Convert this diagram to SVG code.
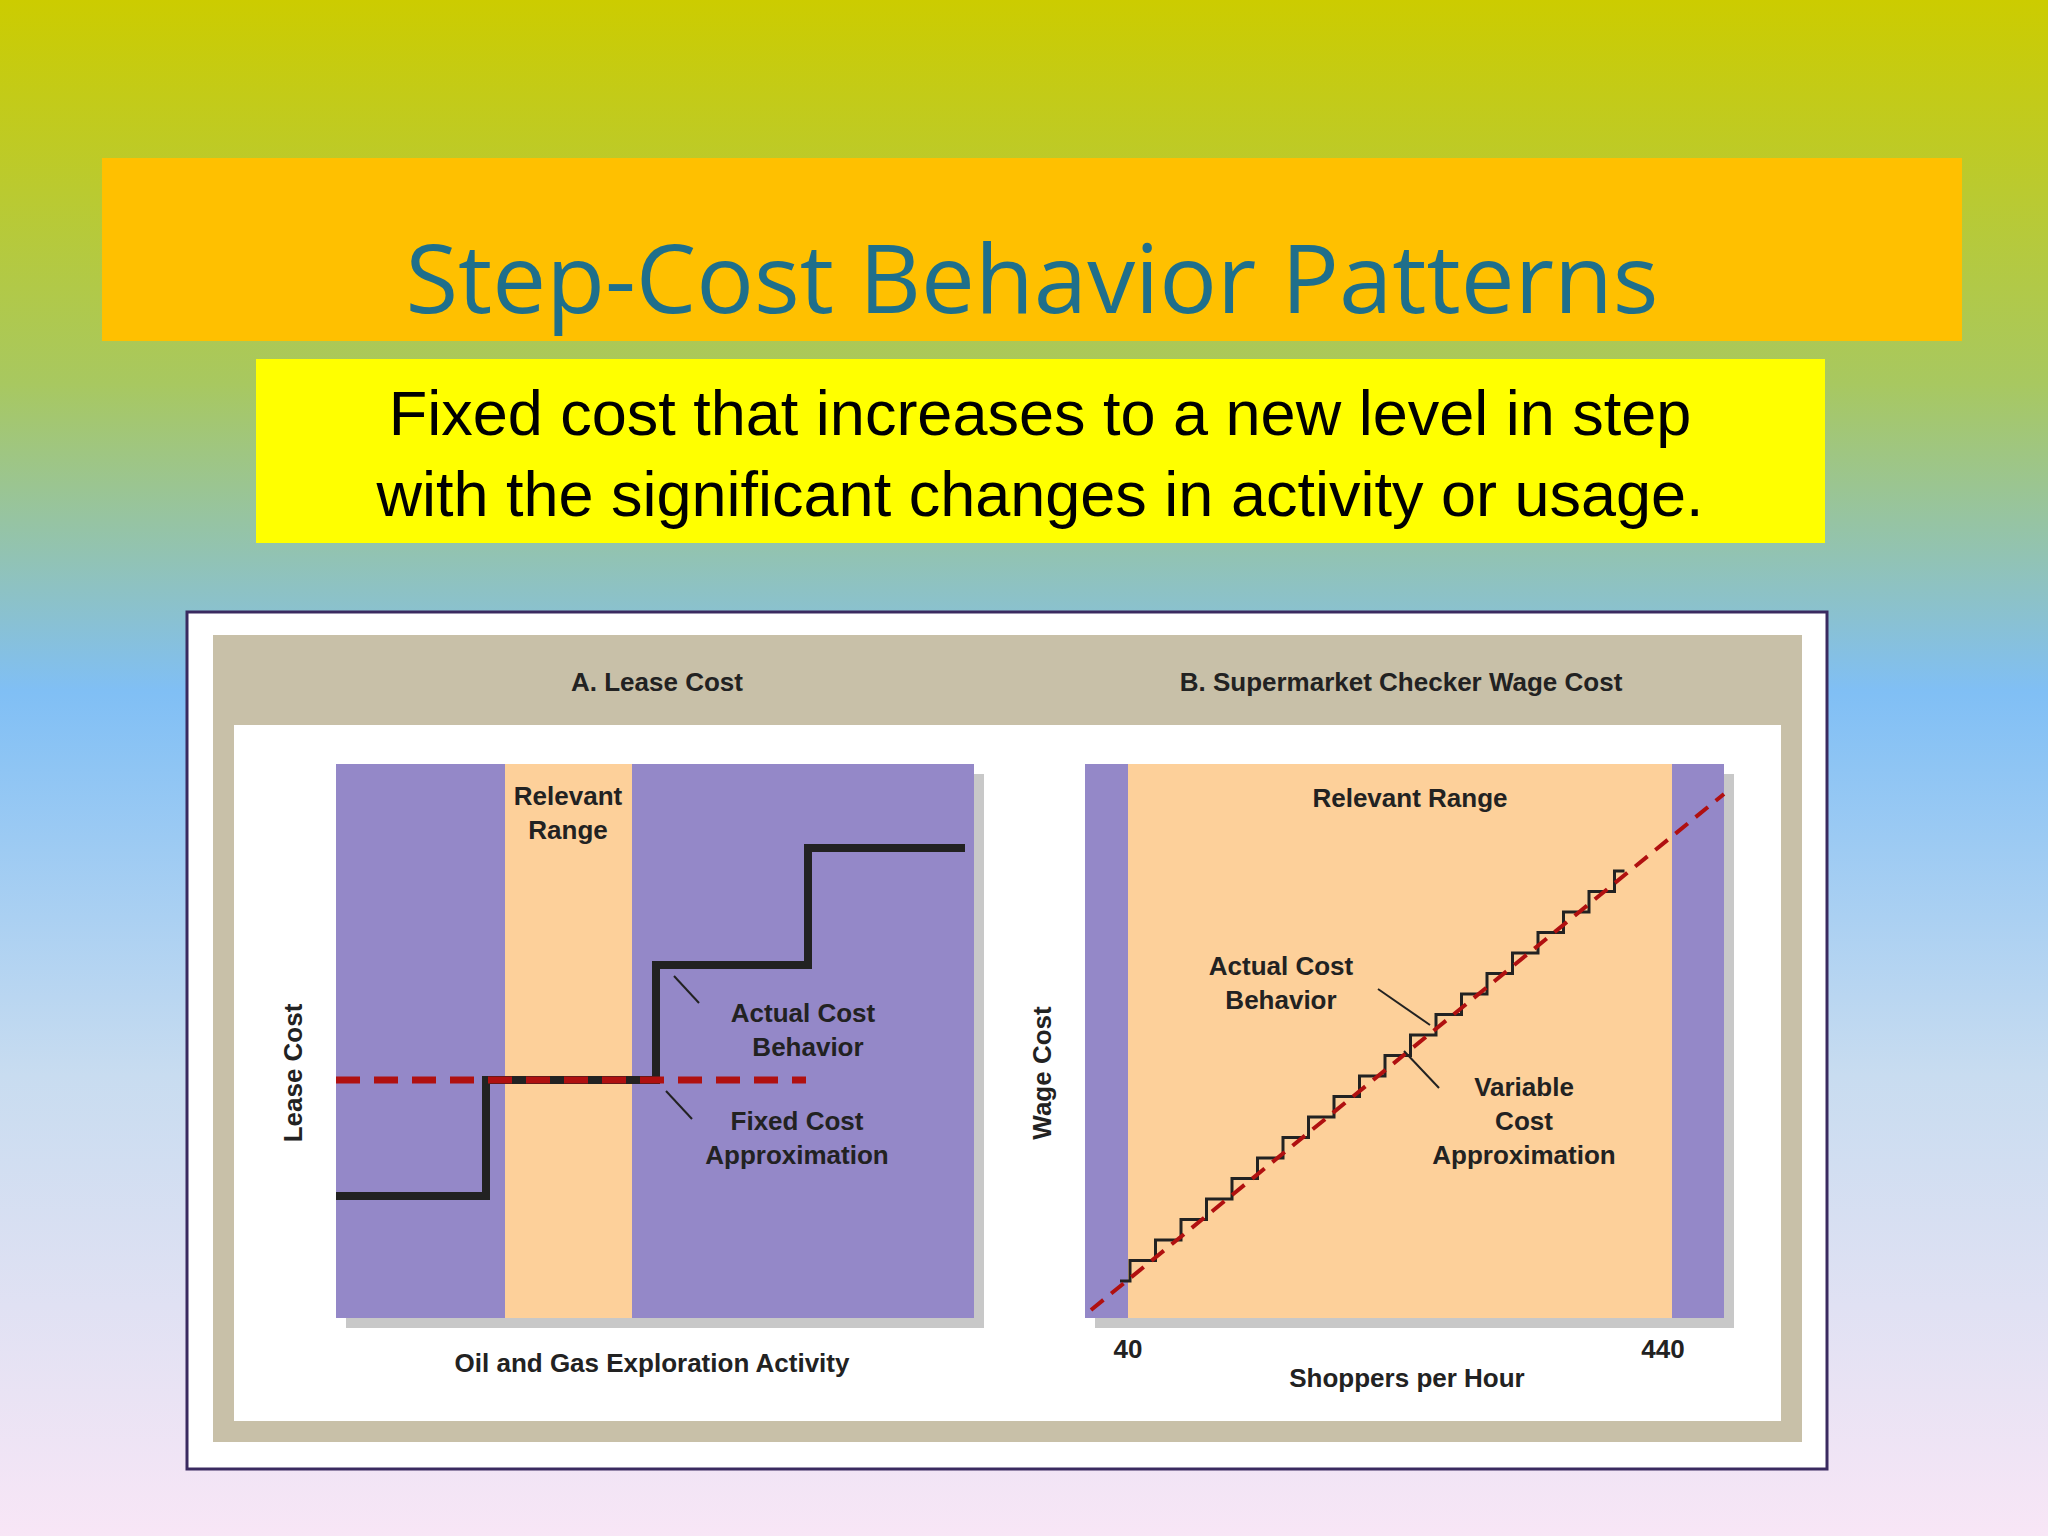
<svg xmlns="http://www.w3.org/2000/svg" width="2048" height="1536" viewBox="0 0 2048 1536">
<defs>
<linearGradient id="bg" x1="0" y1="0" x2="0" y2="1">
<stop offset="0" stop-color="#cccc00"/>
<stop offset="0.25" stop-color="#a8c860"/>
<stop offset="0.45" stop-color="#80bff5"/>
<stop offset="0.7" stop-color="#c8dcf0"/>
<stop offset="1" stop-color="#f8e6f6"/>
</linearGradient>
</defs>
<style>
.lbl{font-family:"Liberation Sans",Arial,sans-serif;font-weight:bold;font-size:26px;fill:#222;text-anchor:middle}
.step{fill:none;stroke:#222;stroke-width:8}
.dash{fill:none;stroke:#b01010;stroke-width:7;stroke-dasharray:24 14}
.lead{stroke:#222;stroke-width:2}
</style>
<rect width="2048" height="1536" fill="url(#bg)"/>
<g id="title">
<rect x="102" y="158" width="1860" height="183" fill="#ffc000"/>
<text x="1032" y="313" font-family="'Open Sans',sans-serif" font-size="96" fill="#1f6f8b" text-anchor="middle">Step-Cost Behavior Patterns</text>
</g>
<g id="definition">
<rect x="256" y="359" width="1569" height="184" fill="#ffff00"/>
<text font-family="'Liberation Sans',Arial,sans-serif" font-size="63" fill="#000" text-anchor="middle"><tspan x="1040" y="435">Fixed cost that increases to a new level in step</tspan><tspan x="1040" y="516">with the significant changes in activity or usage.</tspan></text>
</g>
<g id="panel">
<rect x="187" y="612" width="1640" height="857" fill="#fff" stroke="#3a2a60" stroke-width="3"/>
<rect x="213" y="635" width="1589" height="807" fill="#c8c0a8"/>
<rect x="234" y="725" width="1547" height="696" fill="#fff"/>
<text class="lbl" x="657" y="691">A. Lease Cost</text>
<text class="lbl" x="1401" y="691">B. Supermarket Checker Wage Cost</text>
</g>
<g id="chartA">
<rect x="346" y="774" width="638" height="554" fill="#c8c8c8"/>
<rect x="336" y="764" width="638" height="554" fill="#9488c8"/>
<rect x="505" y="764" width="127" height="554" fill="#fdd09a"/>
<text class="lbl" x="568" y="805">Relevant</text>
<text class="lbl" x="568" y="839">Range</text>
<text class="lbl" x="803" y="1022">Actual Cost</text>
<text class="lbl" x="808" y="1056">Behavior</text>
<text class="lbl" x="797" y="1130">Fixed Cost</text>
<text class="lbl" x="797" y="1164">Approximation</text>
<text class="lbl" transform="translate(302,1073) rotate(-90)">Lease Cost</text>
<text class="lbl" x="652" y="1372">Oil and Gas Exploration Activity</text>
</g>
<g id="chartB">
<rect x="1095" y="774" width="639" height="554" fill="#c8c8c8"/>
<rect x="1085" y="764" width="639" height="554" fill="#9488c8"/>
<rect x="1128" y="764" width="544" height="554" fill="#fdd09a"/>
<text class="lbl" x="1410" y="807">Relevant Range</text>
<text class="lbl" x="1281" y="975">Actual Cost</text>
<text class="lbl" x="1281" y="1009">Behavior</text>
<text class="lbl" x="1524" y="1096">Variable</text>
<text class="lbl" x="1524" y="1130">Cost</text>
<text class="lbl" x="1524" y="1164">Approximation</text>
<text class="lbl" transform="translate(1051,1073) rotate(-90)">Wage Cost</text>
<text class="lbl" x="1128" y="1358">40</text>
<text class="lbl" x="1663" y="1358">440</text>
<text class="lbl" x="1407" y="1387">Shoppers per Hour</text>
</g>
<g id="connectors">
<path class="step" d="M336,1196 H486 V1080 H656 V965 H808 V848 H965"/>
<path class="dash" d="M336,1080 H806"/>
<line class="lead" x1="674" y1="976" x2="699" y2="1003"/>
<line class="lead" x1="666" y1="1091" x2="692" y2="1119"/>
<path fill="none" stroke="#222" stroke-width="3" d="M1120,1281 h10 v-20.5 h25.5 v-20.5 h25.5 v-20.5 h25.5 v-20.5 h25.5 v-20.5 h25.5 v-20.5 h25.5 v-20.5 h25.5 v-20.5 h25.5 v-20.5 h25.5 v-20.5 h25.5 v-20.5 h25.5 v-20.5 h25.5 v-20.5 h25.5 v-20.5 h25.5 v-20.5 h25.5 v-20.5 h25.5 v-20.5 h25.5 v-20.5 h25.5 v-20.5 h25.5 v-20.5 h10"/>
<path fill="none" stroke="#b01010" stroke-width="4" stroke-dasharray="16 10" d="M1091,1310 L1724,794"/>
<line class="lead" x1="1378" y1="989" x2="1430" y2="1025"/>
<line class="lead" x1="1404" y1="1051" x2="1439" y2="1088"/>
</g>
</svg>
